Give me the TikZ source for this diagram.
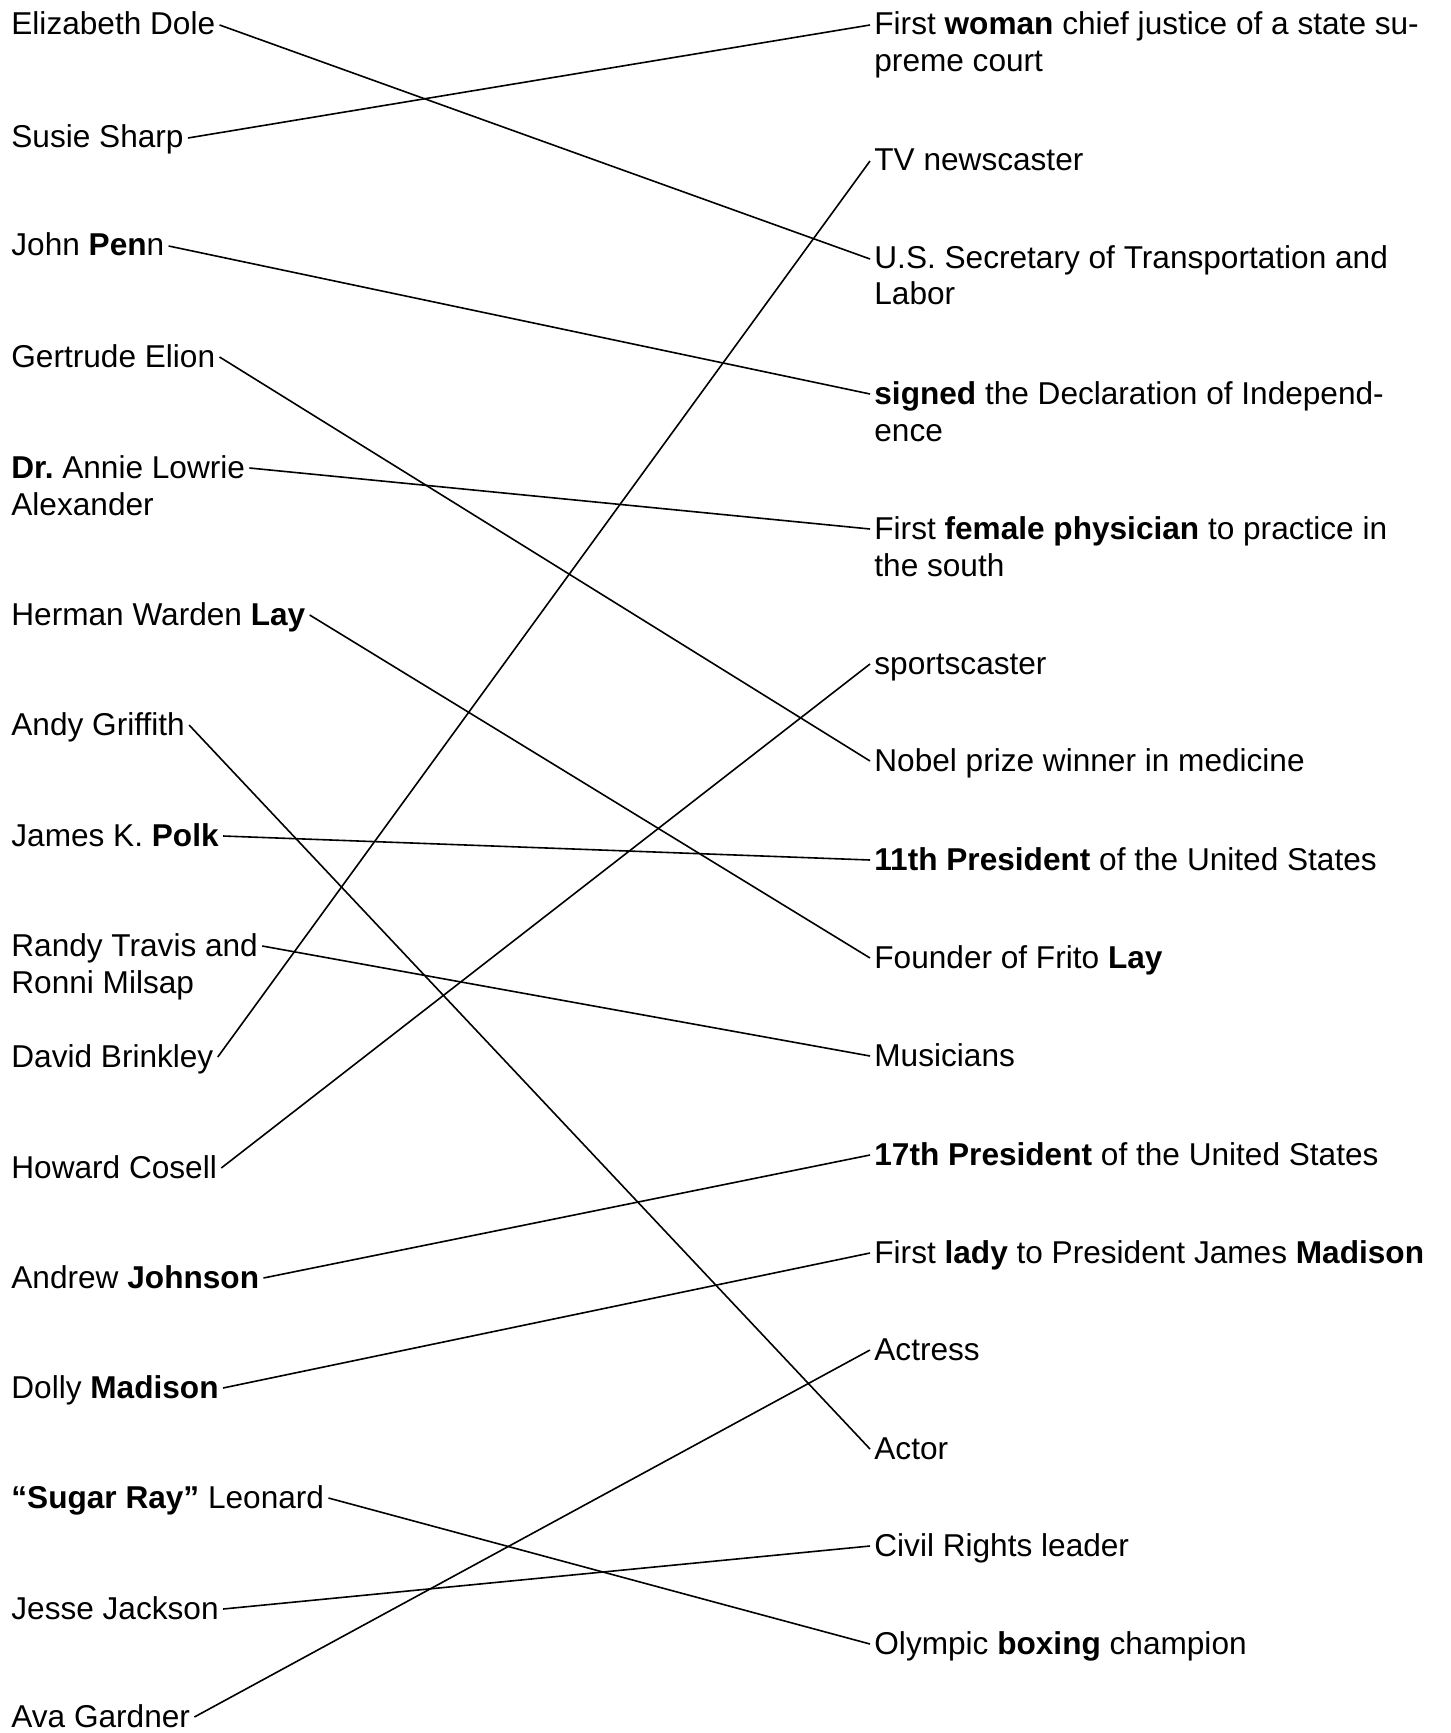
\documentclass[tikz,border=0pt]{standalone}
\usepackage{fontspec}
\setmainfont{Liberation Sans}

\begin{document}
\begin{tikzpicture}[x=0.5pt, y=-0.5pt,
    every node/.style={inner xsep=2pt, inner ysep=0pt, text height=1.1em, text depth=0.1em,
        font=\fontsize{15.8}{18.25}\selectfont},
    person/.style={anchor=base west},
    fact/.style={anchor=base west},
    link/.style={line width=0.8pt}]
    \useasboundingbox (0,0) rectangle (1450,1733);

    % left column
    \node[person] (dole) at (7,35) {Elizabeth Dole};
    \node[person] (sharp) at (7,148) {Susie Sharp\hspace{0.15em}};
    \node[person] (penn) at (7,256) {John \textbf{Pen}n};
    \node[person] (elion) at (7,367) {Gertrude Elion};
    \node[person] (annie) at (7,478) {\textbf{Dr.}\ Annie Lowrie};
    \node[person] (annieB) at (7,515) {Alexander};
    \node[person] (lay) at (7,625) {Herman Warden \textbf{Lay}};
    \node[person] (griffith) at (7,735) {Andy Griffith};
    \node[person] (polk) at (7,846) {James K. \textbf{Polk}};
    \node[person] (travis) at (7,956) {Randy Travis and};
    \node[person] (travisB) at (7,993) {Ronni Milsap};
    \node[person] (brinkley) at (7,1067) {David Brinkley};
    \node[person] (cosell) at (7,1178) {Howard Cosell};
    \node[person] (johnson) at (7,1288) {Andrew \textbf{Johnson}};
    \node[person] (dolly) at (7,1398) {Dolly \textbf{Madison}};
    \node[person] (leonard) at (7,1508) {\textbf{“Sugar Ray”} Leonard\hspace{0.3em}};
    \node[person] (jackson) at (7,1619) {Jesse Jackson};
    \node[person] (gardner) at (7,1727) {Ava Gardner};

    % right column
    \node[fact] (justice) at (870,35) {First \textbf{woman} chief justice of a state su-};
    \node[fact] (justiceB) at (870,72) {preme court};
    \node[fact] (newscaster) at (870,171) {TV newscaster};
    \node[fact] (secretary) at (870,269) {U.S. Secretary of Transportation and};
    \node[fact] (secretaryB) at (870,305) {Labor};
    \node[fact] (declaration) at (870,404) {\textbf{signed} the Declaration of Independ-};
    \node[fact] (declarationB) at (870,441) {ence};
    \node[fact] (physician) at (870,539) {First \textbf{female physician} to practice in};
    \node[fact] (physicianB) at (870,576) {the south};
    \node[fact] (sportscaster) at (870,674) {sportscaster};
    \node[fact] (nobel) at (870,771) {Nobel prize winner in medicine};
    \node[fact] (pres11) at (870,870) {\textbf{11th President} of the United States};
    \node[fact] (frito) at (870,968) {Founder of Frito \textbf{Lay}};
    \node[fact] (musicians) at (870,1066) {Musicians};
    \node[fact] (pres17) at (870,1165) {\textbf{17th President} of the United States};
    \node[fact] (firstlady) at (870,1263) {First \textbf{lady} to President James \textbf{Madison}};
    \node[fact] (actress) at (870,1360) {Actress};
    \node[fact] (actor) at (870,1459) {Actor};
    \node[fact] (civil) at (870,1556) {Civil Rights leader};
    \node[fact] (boxing) at (870,1654) {Olympic \textbf{boxing} champion};

    % matches
    \foreach \a/\b in {dole/secretary, sharp/justice, penn/declaration, elion/nobel,
        annie/physician, lay/frito, griffith/actor, polk/pres11, travis/musicians,
        brinkley/newscaster, cosell/sportscaster, johnson/pres17, dolly/firstlady,
        leonard/boxing, jackson/civil, gardner/actress}
        \draw[link] (\a.east) -- (\b.west);
\end{tikzpicture}
\end{document}
